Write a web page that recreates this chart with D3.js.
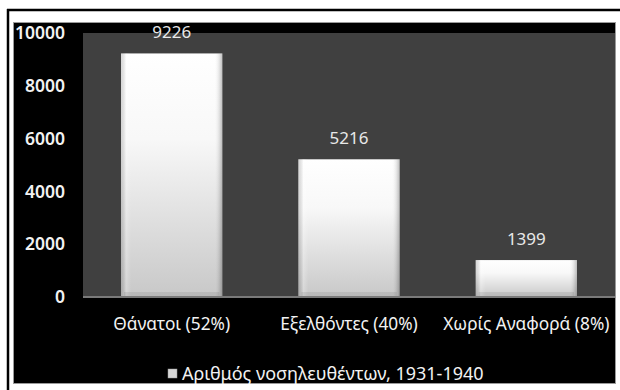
<!DOCTYPE html>
<html>
<head>
<meta charset="utf-8">
<script src="https://cdn.jsdelivr.net/npm/d3@7"></script>
<style>
  html, body { margin: 0; padding: 0; background: #fff; }
  svg { display: block; }
  text { font-family: "Noto Sans", "Open Sans", sans-serif; }
</style>
</head>
<body>
<svg id="chart" width="620" height="390"></svg>
<script>
// Patients hospitalised 1931-1940, by outcome
const categories = ["Θάνατοι (52%)", "Εξελθόντες (40%)", "Χωρίς Αναφορά (8%)"];
const patients = [9226, 5216, 1399];
const yTicks = [0, 2000, 4000, 6000, 8000, 10000];
const seriesName = "Αριθμός νοσηλευθέντων, 1931-1940";

const svg = d3.select("#chart");
const W = 620, H = 390;

// outer frame (top + left rule of the surrounding box)
svg.append("line").attr("x1", 7).attr("x2", W).attr("y1", 10).attr("y2", 10)
  .attr("stroke", "#000").attr("stroke-width", 2.5);
svg.append("line").attr("x1", 8).attr("x2", 8).attr("y1", 9).attr("y2", H)
  .attr("stroke", "#000").attr("stroke-width", 2.5);

// chart area
svg.append("rect").attr("x", 13.5).attr("y", 22.5).attr("width", 602).attr("height", 361)
  .attr("fill", "#000").attr("stroke", "#9a9a9a").attr("stroke-width", 1);

const plot = { left: 83, right: 615, top: 33, bottom: 297 };

svg.append("rect").attr("x", plot.left).attr("y", plot.top)
  .attr("width", plot.right - plot.left).attr("height", plot.bottom - plot.top)
  .attr("fill", "#404040");

const x = d3.scaleBand().domain(categories).range([plot.left, plot.right])
  .paddingInner(0.75 / 1.75).paddingOuter(0.75 / 1.75 / 2);
const y = d3.scaleLinear().domain([0, 10000]).range([plot.bottom, plot.top]);

// gradients for the bevelled bars
const defs = svg.append("defs");
const vg = defs.append("linearGradient").attr("id", "barV")
  .attr("x1", 0).attr("y1", 0).attr("x2", 0).attr("y2", 1);
vg.append("stop").attr("offset", "0%").attr("stop-color", "#ffffff");
vg.append("stop").attr("offset", "35%").attr("stop-color", "#f8f8f8");
vg.append("stop").attr("offset", "100%").attr("stop-color", "#c8c8c8");

const hg = defs.append("linearGradient").attr("id", "barH")
  .attr("x1", 0).attr("y1", 0).attr("x2", 1).attr("y2", 0);
hg.append("stop").attr("offset", "0%").attr("stop-color", "#000").attr("stop-opacity", 0.15);
hg.append("stop").attr("offset", "5%").attr("stop-color", "#fff").attr("stop-opacity", 0.25);
hg.append("stop").attr("offset", "10%").attr("stop-color", "#fff").attr("stop-opacity", 0);
hg.append("stop").attr("offset", "92%").attr("stop-color", "#fff").attr("stop-opacity", 0);
hg.append("stop").attr("offset", "97%").attr("stop-color", "#000").attr("stop-opacity", 0.1);
hg.append("stop").attr("offset", "100%").attr("stop-color", "#000").attr("stop-opacity", 0.25);

const bars = svg.append("g");
bars.selectAll("rect.bar").data(categories).join("rect").attr("class", "bar")
  .attr("x", d => x(d)).attr("width", x.bandwidth())
  .attr("y", (d, i) => y(patients[i]))
  .attr("height", (d, i) => y(0) - y(patients[i]))
  .attr("fill", "url(#barV)");
bars.selectAll("rect.shade").data(categories).join("rect").attr("class", "shade")
  .attr("x", d => x(d)).attr("width", x.bandwidth())
  .attr("y", (d, i) => y(patients[i]))
  .attr("height", (d, i) => y(0) - y(patients[i]))
  .attr("fill", "url(#barH)");
// darker bevel at the foot of each bar
bars.selectAll("rect.foot").data(categories).join("rect").attr("class", "foot")
  .attr("x", d => x(d) + 3).attr("width", x.bandwidth() - 6)
  .attr("y", y(0) - 5).attr("height", 4)
  .attr("fill", "#000").attr("opacity", 0.08);

// x axis rule
svg.append("line").attr("x1", plot.left).attr("x2", plot.right)
  .attr("y1", plot.bottom).attr("y2", plot.bottom)
  .attr("stroke", "#7a7a7a").attr("stroke-width", 2);

// y axis labels
const yAxis = svg.append("g").attr("transform", `translate(${plot.left - 18},0)`)
  .call(d3.axisLeft(y).tickValues(yTicks).tickSize(0).tickPadding(0).tickFormat(d3.format("d")));
yAxis.select(".domain").remove();
yAxis.selectAll("text").attr("fill", "#f2f2f2").attr("font-size", 17.5)
  .attr("font-weight", 600).attr("font-family", "'Noto Sans', sans-serif");

// category labels
const xAxis = svg.append("g").attr("transform", `translate(0,${plot.bottom})`)
  .call(d3.axisBottom(x).tickSize(0).tickPadding(21));
xAxis.select(".domain").remove();
xAxis.selectAll("text").attr("fill", "#f2f2f2").attr("font-size", 17.3)
  .attr("font-family", "'Noto Sans', sans-serif");

// value labels
svg.append("g").selectAll("text").data(categories).join("text")
  .attr("x", d => x(d) + x.bandwidth() / 2)
  .attr("y", (d, i) => y(patients[i]) - 21)
  .attr("dy", "0.35em")
  .attr("text-anchor", "middle")
  .attr("fill", "#e8e8e8").attr("font-size", 17)
  .text((d, i) => patients[i]);

// legend
const lg = svg.append("g").attr("transform", "translate(168,369)");
lg.append("rect").attr("width", 9).attr("height", 9).attr("fill", "#d8d8d8")
  .attr("stroke", "#999").attr("stroke-width", 0.5);
lg.append("text").attr("x", 14).attr("y", 4.5).attr("dy", "0.35em")
  .attr("fill", "#f2f2f2").attr("font-size", 18).text(seriesName);
</script>
</body>
</html>
